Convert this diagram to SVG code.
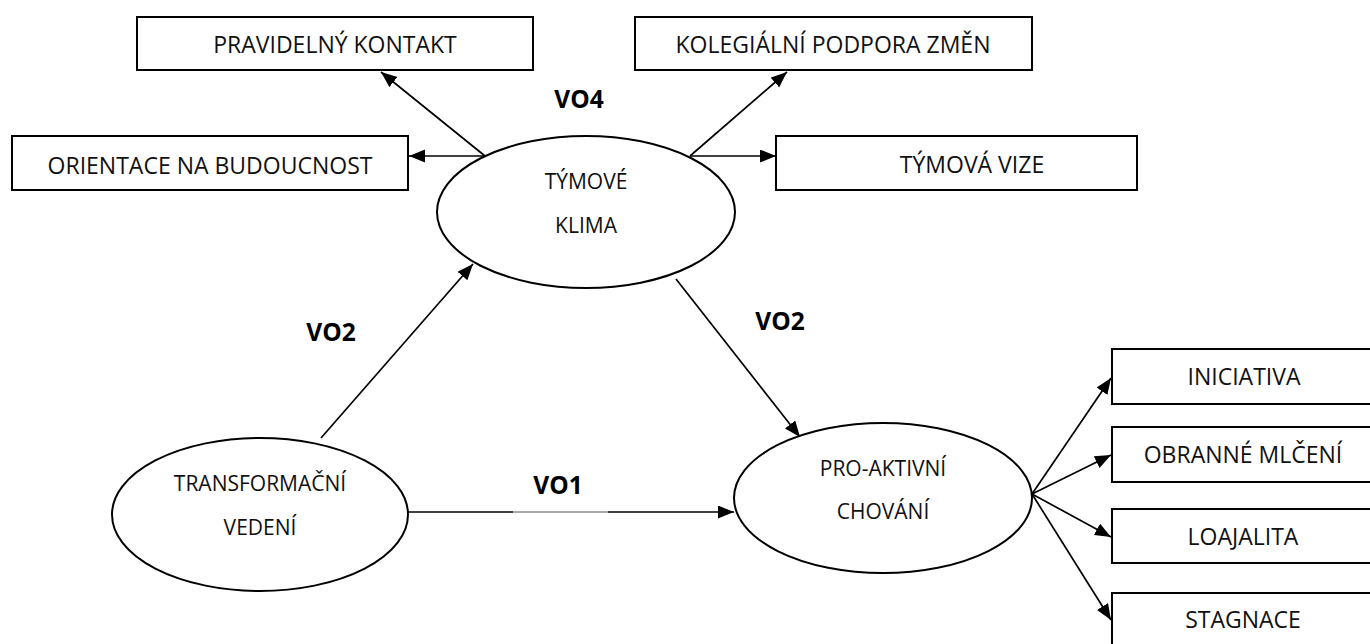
<svg xmlns="http://www.w3.org/2000/svg" width="1370" height="644" viewBox="0 0 1370 644">
  <style>
    .box { fill: #fff; stroke: #000; stroke-width: 2; }
    .oval { fill: #fff; stroke: #000; stroke-width: 2; }
    .lbl { font-family: "Open Sans", "Liberation Sans", sans-serif; font-size: 23px; fill: #111; text-anchor: middle; }
    .olbl { font-family: "Open Sans", "Liberation Sans", sans-serif; font-size: 21px; fill: #111; text-anchor: middle; }
    .vo { font-family: "Open Sans", "Liberation Sans", sans-serif; font-size: 24.5px; font-weight: bold; fill: #000; text-anchor: middle; }
    .edge { fill: none; stroke: #000; stroke-width: 1.7; }
    .edge-thin { fill: none; stroke: #555; stroke-width: 1; }
  </style>
  <defs>
    <marker id="arrow" markerUnits="userSpaceOnUse" markerWidth="18" markerHeight="14" refX="16" refY="6.5" orient="auto">
      <path d="M0,0 L16,6.5 L0,13 z" fill="#000"/>
    </marker>
  </defs>

  <rect width="1370" height="644" fill="#fff"/>

  <!-- connectors -->
  <g id="connectors">
    <!-- team climate outputs -->
    <line class="edge" x1="485" y1="156" x2="409" y2="156" marker-end="url(#arrow)"/>
    <line class="edge" x1="485" y1="156" x2="381" y2="72" marker-end="url(#arrow)"/>
    <line class="edge" x1="690" y1="156" x2="787" y2="72" marker-end="url(#arrow)"/>
    <line class="edge" x1="690" y1="156" x2="776" y2="156" marker-end="url(#arrow)"/>
    <!-- VO2 paths -->
    <line class="edge" x1="321" y1="438" x2="473" y2="264" marker-end="url(#arrow)"/>
    <line class="edge" x1="676" y1="279" x2="800" y2="437" marker-end="url(#arrow)"/>
    <!-- VO1 path -->
    <line class="edge" x1="408" y1="512" x2="513" y2="512"/>
    <line class="edge-thin" x1="513" y1="512" x2="608" y2="512"/>
    <line class="edge" x1="608" y1="512" x2="734" y2="512" marker-end="url(#arrow)"/>
    <!-- pro-active behaviour outputs -->
    <line class="edge" x1="1032" y1="494" x2="1111" y2="378" marker-end="url(#arrow)"/>
    <line class="edge" x1="1032" y1="494" x2="1111" y2="455" marker-end="url(#arrow)"/>
    <line class="edge" x1="1032" y1="494" x2="1111" y2="537" marker-end="url(#arrow)"/>
    <line class="edge" x1="1032" y1="494" x2="1111" y2="620" marker-end="url(#arrow)"/>
  </g>

  <!-- path labels -->
  <g id="path-labels">
    <text class="vo" x="579" y="108">VO4</text>
    <text class="vo" x="331" y="341">VO2</text>
    <text class="vo" x="780" y="330">VO2</text>
    <text class="vo" x="558" y="494">VO1</text>
  </g>

  <!-- top boxes -->
  <g id="pravidelny-kontakt">
    <rect class="box" x="137" y="17" width="396" height="53"/>
    <text class="lbl" x="335" y="53">PRAVIDELNÝ KONTAKT</text>
  </g>
  <g id="orientace">
    <rect class="box" x="12" y="136" width="396" height="54"/>
    <text class="lbl" x="210" y="174">ORIENTACE NA BUDOUCNOST</text>
  </g>
  <g id="kolegialni-podpora">
    <rect class="box" x="635" y="17" width="397" height="53"/>
    <text class="lbl" x="833" y="53">KOLEGIÁLNÍ PODPORA ZMĚN</text>
  </g>
  <g id="tymova-vize">
    <rect class="box" x="776" y="136" width="361" height="54"/>
    <text class="lbl" x="972" y="173">TÝMOVÁ VIZE</text>
  </g>

  <!-- ellipses -->
  <g id="tymove-klima">
    <ellipse class="oval" cx="586" cy="212" rx="149" ry="76"/>
    <text class="olbl" x="586" y="189">TÝMOVÉ</text>
    <text class="olbl" x="586" y="233">KLIMA</text>
  </g>
  <g id="transformacni-vedeni">
    <ellipse class="oval" cx="260" cy="514.5" rx="148" ry="76.5"/>
    <text class="olbl" x="260" y="491">TRANSFORMAČNÍ</text>
    <text class="olbl" x="260" y="535">VEDENÍ</text>
  </g>
  <g id="proaktivni-chovani">
    <ellipse class="oval" cx="883" cy="498" rx="149" ry="75"/>
    <text class="olbl" x="883" y="476">PRO-AKTIVNÍ</text>
    <text class="olbl" x="883" y="519">CHOVÁNÍ</text>
  </g>

  <!-- right boxes -->
  <g id="iniciativa">
    <rect class="box" x="1112" y="349" width="263" height="55"/>
    <text class="lbl" x="1244" y="385">INICIATIVA</text>
  </g>
  <g id="obranne-mlceni">
    <rect class="box" x="1112" y="427" width="263" height="55"/>
    <text class="lbl" x="1243" y="463">OBRANNÉ MLČENÍ</text>
  </g>
  <g id="loajalita">
    <rect class="box" x="1112" y="509" width="263" height="54"/>
    <text class="lbl" x="1243" y="545">LOAJALITA</text>
  </g>
  <g id="stagnace">
    <rect class="box" x="1112" y="593" width="263" height="60"/>
    <text class="lbl" x="1243" y="628">STAGNACE</text>
  </g>
</svg>
